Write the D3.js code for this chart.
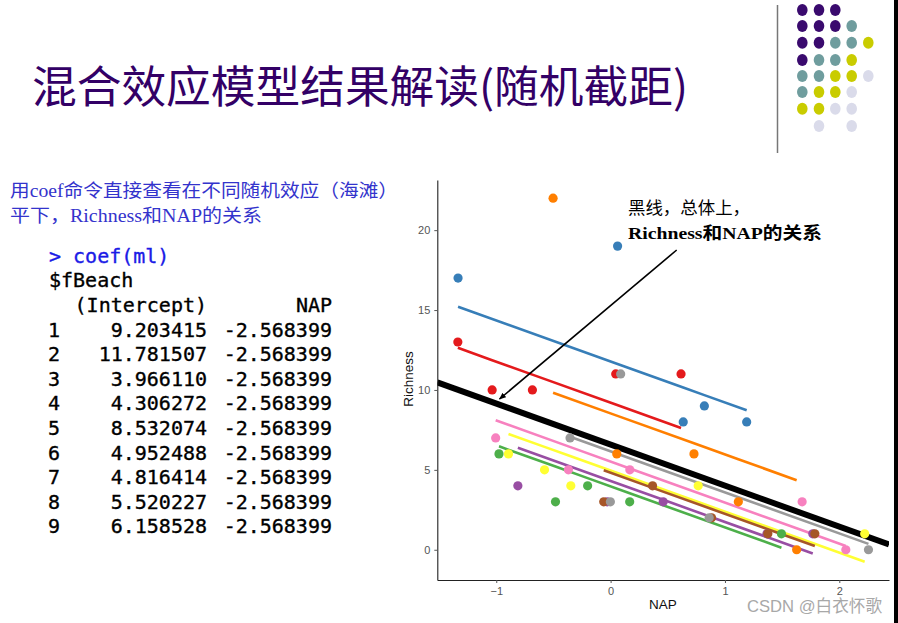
<!DOCTYPE html>
<html><head><meta charset="utf-8">
<script src="https://cdn.jsdelivr.net/npm/d3@7"></script>
<style>body{margin:0;background:#fff}svg{display:block}</style>
</head><body>
<script>
// ---- data ----
const beachIds = ["1","2","3","4","5","6","7","8","9"];
const beachColors = ["#e41a1c","#377eb8","#4daf4a","#984ea3","#ff7f00","#ffff33","#a65628","#f781bf","#999999"];
const interceptLabels = ["9.203415","11.781507","3.966110","4.306272","8.532074","4.952488","4.816414","5.520227","6.158528"];
const slopeLabel = "-2.568399";
const beachIntercepts = [9.203415,11.781507,3.966110,4.306272,8.532074,4.952488,4.816414,5.520227,6.158528];
const beachSlope = -2.568399;
const fixedIntercept = 6.5819;
const fixedSlope = -2.5684;
const sampleBeach = [1,1,1,1,1, 2,2,2,2,2, 3,3,3,3,3, 4,4,4,4,4, 5,5,5,5,5, 6,6,6,6,6, 7,7,7,7,7, 8,8,8,8,8, 9,9,9,9,9];
const sampleNAP = [0.045,-1.036,-1.336,0.616,-0.684,
                   1.190,0.820,0.635,0.061,-1.334,
                   -0.976,1.494,-0.201,-0.482,0.167,
                   1.768,-0.030,0.460,1.367,-0.811,
                   1.117,-0.503,0.729,1.627,0.054,
                   -0.578,-0.348,2.222,-0.893,0.766,
                   0.883,1.786,1.375,-0.060,0.367,
                   -1.005,-0.369,0.168,1.675,2.057,
                   -0.355,0.088,-0.002,0.862,2.255];
const sampleRichness = [11,10,13,11,10,
                        8,9,8,19,17,
                        6,1,4,3,3,
                        1,3,3,1,4,
                        3,22,6,0,6,
                        5,4,1,6,4,
                        2,1,1,3,4,
                        7,5,5,3,0,
                        7,11,3,2,0];
const xTicks = [-1,0,1,2];
const yTicks = [0,5,10,15,20];
const dotGrid = ["PPP..","PPPT.","PPTTY","PTTY.","TTYYL","TYYL.","YYLL.",".L.L."];
const dotColors = {P:"#3a0a6e",T:"#6f9d9e",Y:"#c9cc00",L:"#dadbea"};

const W=898,H=623;
const svg=d3.select("body").append("svg").attr("width",W).attr("height",H);
svg.append("rect").attr("width",W).attr("height",H).attr("fill","#fff");
svg.append("rect").attr("x",894).attr("y",0).attr("width",4).attr("height",H).attr("fill","#000");

// title
svg.append("text").attr("x",32).attr("y",103)
  .attr("font-family","'Noto Sans CJK SC',sans-serif").attr("font-size",44)
  .attr("fill","#330066").attr("textLength",656).attr("lengthAdjust","spacingAndGlyphs")
  .text("混合效应模型结果解读(随机截距)");

// decoration
svg.append("line").attr("x1",777.5).attr("x2",777.5).attr("y1",5).attr("y2",153).attr("stroke","#777").attr("stroke-width",1.5);
const colX=[802.3,819,835.3,851.7,868.3], rowY=[10,26,42.7,60,76,92,108.7,126];
dotGrid.forEach((row,ri)=>{row.split("").forEach((c,ci)=>{ if(c==="."){return;}
  svg.append("ellipse").attr("cx",colX[ci]).attr("cy",rowY[ri]).attr("rx",5.3).attr("ry",6).attr("fill",dotColors[c]);});});

// left text
const lt=svg.append("g").attr("font-family","'Liberation Serif','Noto Sans CJK SC',serif").attr("font-size",18.5).attr("fill","#3333cc");
lt.append("text").attr("x",10).attr("y",197).attr("textLength",388).attr("lengthAdjust","spacingAndGlyphs").text("用coef命令直接查看在不同随机效应（海滩）");
lt.append("text").attr("x",10).attr("y",222).attr("textLength",252).attr("lengthAdjust","spacingAndGlyphs").text("平下，Richness和NAP的关系");

// code block
const code=svg.append("g").attr("font-family","'DejaVu Sans Mono',monospace").attr("font-size",20).attr("fill","#000")
  .attr("stroke","#000").attr("stroke-width",0.35);
code.append("text").attr("x",49).attr("y",262.5).attr("fill","#1a1ae6").attr("stroke","#1a1ae6").text("> coef(ml)");
code.append("text").attr("x",49).attr("y",287).text("$fBeach");
code.append("text").attr("x",207).attr("y",312).attr("text-anchor","end").text("(Intercept)");
code.append("text").attr("x",332).attr("y",312).attr("text-anchor","end").text("NAP");
beachIds.forEach((b,i)=>{
  const y=336.5+i*24.6;
  code.append("text").attr("x",48).attr("y",y).text(b);
  code.append("text").attr("x",207).attr("y",y).attr("text-anchor","end").text(interceptLabels[i]);
  code.append("text").attr("x",332).attr("y",y).attr("text-anchor","end").text(slopeLabel);
});

// chart
const pts=sampleNAP.map((x,i)=>({x,y:sampleRichness[i],b:sampleBeach[i]-1,fit:beachIntercepts[sampleBeach[i]-1]+beachSlope*x}));
const xmin=d3.min(pts,d=>d.x),xmax=d3.max(pts,d=>d.x);
const ymin=d3.min(pts,d=>Math.min(d.y,d.fit)),ymax=d3.max(pts,d=>Math.max(d.y,d.fit));
const xr=xmax-xmin,yr=ymax-ymin;
const L=437.3,R=889,T=180,B=580;
const x=d3.scaleLinear().domain([xmin-0.05*xr,xmax+0.05*xr]).range([L,R]);
const y=d3.scaleLinear().domain([ymin-0.05*yr,ymax+0.05*yr]).range([B,T]);

const defs=svg.append("defs");
defs.append("clipPath").attr("id","clip").append("rect").attr("x",L).attr("y",T).attr("width",R-L).attr("height",B-T);

const plot=svg.append("g").attr("clip-path","url(#clip)");
const xd=x.domain();
plot.append("line").attr("x1",x(xd[0])).attr("x2",x(xd[1]))
  .attr("y1",y(fixedIntercept+fixedSlope*xd[0])).attr("y2",y(fixedIntercept+fixedSlope*xd[1]))
  .attr("stroke","#000").attr("stroke-width",6);
const line=d3.line().x(d=>x(d.x)).y(d=>y(d.fit));
beachIds.forEach((b,i)=>{
  const d=pts.filter(p=>p.b===i).sort((a,c)=>a.x-c.x);
  plot.append("path").attr("d",line(d)).attr("fill","none").attr("stroke",beachColors[i]).attr("stroke-width",2.6);
});
plot.selectAll("circle.pt").data(pts).join("circle").attr("class","pt")
  .attr("cx",d=>x(d.x)).attr("cy",d=>y(d.y)).attr("r",4.6).attr("fill",d=>beachColors[d.b]);

// axes
const fmt=d=>d<0?"\u2212"+Math.abs(d):String(d);
const ax=svg.append("g").attr("transform",`translate(0,${B})`)
  .call(d3.axisBottom(x).tickValues(xTicks).tickFormat(fmt).tickSize(3).tickSizeOuter(0).tickPadding(4));
const ay=svg.append("g").attr("transform",`translate(${L},0)`)
  .call(d3.axisLeft(y).tickValues(yTicks).tickFormat(fmt).tickSize(3).tickSizeOuter(0).tickPadding(4));
[ax,ay].forEach(a=>{
  a.selectAll("text").attr("font-family","'Liberation Sans',Arial,sans-serif").attr("font-size",11).attr("fill","#555");
  a.selectAll(".tick line").attr("stroke","#555");
  a.select(".domain").attr("stroke","#222").attr("stroke-width",1.1);
});
svg.append("text").attr("x",663).attr("y",609).attr("text-anchor","middle")
  .attr("font-family","'Liberation Sans',Arial,sans-serif").attr("font-size",13.5).attr("fill","#111").text("NAP");
svg.append("text").attr("transform","translate(413,379) rotate(-90)").attr("text-anchor","middle")
  .attr("font-family","'Liberation Sans',Arial,sans-serif").attr("font-size",13.5).attr("fill","#111").text("Richness");

// annotation
defs.append("marker").attr("id","arr").attr("viewBox","0 0 10 10").attr("refX",9).attr("refY",5)
  .attr("markerWidth",7).attr("markerHeight",7).attr("orient","auto-start-reverse").attr("markerUnits","userSpaceOnUse")
  .append("path").attr("d","M0,1 L10,5 L0,9 Z").attr("fill","#000");
svg.append("line").attr("x1",676.7).attr("y1",250).attr("x2",499.5).attr("y2",399)
  .attr("stroke","#000").attr("stroke-width",1.6).attr("marker-end","url(#arr)");
const an=svg.append("g").attr("font-family","'Liberation Serif','Noto Sans CJK SC',serif").attr("font-size",17).attr("fill","#000");
an.append("text").attr("x",628).attr("y",214).attr("textLength",122).attr("lengthAdjust","spacingAndGlyphs").text("黑线，总体上，");
an.append("text").attr("x",628).attr("y",238.5).attr("font-weight","bold").attr("textLength",194).attr("lengthAdjust","spacingAndGlyphs").text("Richness和NAP的关系");

// watermark
svg.append("text").attr("x",747).attr("y",612).attr("font-family","'Liberation Sans','Noto Sans CJK SC',sans-serif")
  .attr("font-size",17).attr("fill","#a8a8a8").attr("textLength",135).attr("lengthAdjust","spacingAndGlyphs").text("CSDN @白衣怀歌");
</script>
</body></html>
